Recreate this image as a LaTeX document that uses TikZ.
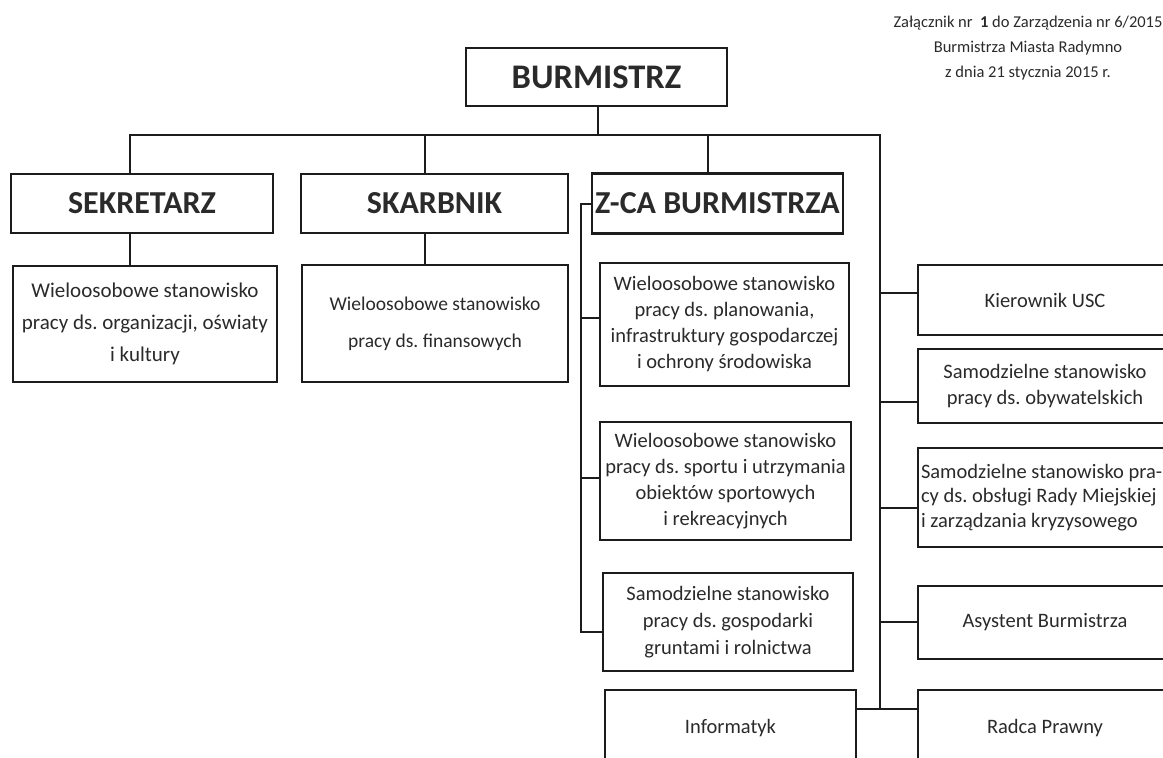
\documentclass[tikz,border=0pt]{standalone}
\usepackage{fontspec}
\setmainfont{Carlito}
\usepackage{tikz}
\usetikzlibrary{calc,positioning}
\usepackage{xcolor}
\definecolor{ink}{HTML}{2A2A2A}
\definecolor{frame}{HTML}{1C1C1C}
\frenchspacing
\tikzset{
    head/.style={
        draw=frame,
        line width=2.9pt,
        text=ink,
        font=\bfseries\fontsize{32}{36}\selectfont,
        inner sep=0pt
    },
    unit/.style={
        draw=frame,
        line width=2.7pt,
        text=ink,
        align=center,
        font=\fontsize{20.5}{26}\selectfont,
        inner sep=0pt
    },
    link/.style={
        line width=2.9pt,
        color=frame
    },
    note/.style={
        text=ink,
        align=center,
        font=\fontsize{16.5}{25}\selectfont
    }
}

\begin{document}
\begin{tikzpicture}[x=1pt,y=-1pt]

    \useasboundingbox (0,0) rectangle (1163,758);

    % Adnotacja
    \node[note]
        (zal) at (1028,48)
        {Załącznik nr\ \ \textbf{1} do Zarządzenia nr 6/2015\\
         Burmistrza Miasta Radymno\\
         z dnia 21 stycznia 2015 r.};

    % Kierownictwo
    \node[
        head,
        minimum width=261pt,
        minimum height=58pt,
        font=\bfseries\fontsize{34.5}{38}\selectfont
    ]
        (burm) at (596.5,77)
        {BURMISTRZ};

    \node[head, minimum width=262pt, minimum height=59pt]
        (sekr) at (142,203.5)
        {SEKRETARZ};

    \node[head, minimum width=267pt, minimum height=59pt]
        (skarb) at (434.5,203.5)
        {SKARBNIK};

    \node[head, minimum width=251pt, minimum height=60pt]
        (zca) at (717.5,203.5)
        {Z-CA BURMISTRZA};

    % Stanowiska pod sekretarzem i skarbnikiem
    \node[
        unit,
        minimum width=264pt,
        minimum height=116pt,
        font=\fontsize{21}{32}\selectfont
    ]
        (org) at (145,324)
        {Wieloosobowe stanowisko\\pracy ds. organizacji, oświaty\\i kultury};

    \node[
        unit,
        minimum width=266pt,
        minimum height=117pt,
        font=\fontsize{19.5}{37}\selectfont
    ]
        (fin) at (435,323.5)
        {Wieloosobowe stanowisko\\pracy ds. finansowych};

    % Stanowiska pod zastepca
    \node[unit, minimum width=249pt, minimum height=123pt]
        (plan) at (724.5,324.5)
        {Wieloosobowe stanowisko\\pracy ds. planowania,\\infrastruktury gospodarczej\\i ochrony środowiska};

    \node[unit, minimum width=251pt, minimum height=118pt]
        (sport) at (725.5,481)
        {Wieloosobowe stanowisko\\pracy ds. sportu i utrzymania\\obiektów sportowych\\i rekreacyjnych};

    \node[
        unit,
        minimum width=250pt,
        minimum height=98pt,
        font=\fontsize{20.5}{27}\selectfont
    ]
        (grunt) at (728,622)
        {Samodzielne stanowisko\\pracy ds. gospodarki\\gruntami i rolnictwa};

    \node[unit, minimum width=251pt, minimum height=76pt]
        (info) at (730.5,728)
        {Informatyk};

    % Stanowiska pod burmistrzem
    \node[unit, minimum width=254pt, minimum height=70pt]
        (usc) at (1045,300)
        {Kierownik USC};

    \node[unit, minimum width=254pt, minimum height=74pt]
        (obyw) at (1045,386)
        {Samodzielne stanowisko\\pracy ds. obywatelskich};

    \node[
        unit,
        align=flush left,
        text width=248pt,
        inner xsep=3pt,
        minimum height=99pt,
        font=\fontsize{20.5}{24.5}\selectfont
    ]
        (rada) at (1045,497.5)
        {Samodzielne stanowisko pra-\\cy ds. obsługi Rady Miejskiej\\i zarządzania kryzysowego};

    \node[unit, minimum width=254pt, minimum height=73pt]
        (asyst) at (1045,622.5)
        {Asystent Burmistrza};

    \node[unit, minimum width=254pt, minimum height=76pt]
        (radca) at (1045,728)
        {Radca Prawny};

    % Punkty linii
    \coordinate (bus) at (598,135);
    \coordinate (rtop) at (880,135);
    \coordinate (rjoin) at (880,709);
    \coordinate (zl) at (581,204);
    \coordinate (zb1) at (581,318);
    \coordinate (zb2) at (581,478);
    \coordinate (zb3) at (581,632);
    \coordinate (rb1) at (880,293);
    \coordinate (rb2) at (880,402);
    \coordinate (rb3) at (880,508);
    \coordinate (rb4) at (880,622);

    % Szyna glowna
    \draw[link] (burm.south -| bus) -- (bus);
    \draw[link] ([xshift=-12pt]sekr.north) |- (rtop) -- (rjoin);
    \draw[link] ([xshift=-9.5pt]skarb.north) -- ([xshift=-9.5pt]skarb.north |- bus);
    \draw[link] ([xshift=-9.5pt]zca.north) -- ([xshift=-9.5pt]zca.north |- bus);

    % Pod sekretarzem i skarbnikiem
    \draw[link] ([xshift=-12pt]sekr.south) -- ([xshift=-12pt]sekr.south |- org.north);
    \draw[link] ([xshift=-9.5pt]skarb.south) -- ([xshift=-9.5pt]skarb.south |- fin.north);

    % Klamra zastepcy
    \draw[link] (zca.west |- zl) -- (zl) -- (zb3) -- (zb3 -| grunt.west);
    \draw[link] (zb1) -- (zb1 -| plan.west);
    \draw[link] (zb2) -- (zb2 -| sport.west);

    % Prawa kolumna
    \draw[link] (rb1) -- (rb1 -| usc.west);
    \draw[link] (rb2) -- (rb2 -| obyw.west);
    \draw[link] (rb3) -- (rb3 -| rada.west);
    \draw[link] (rb4) -- (rb4 -| asyst.west);
    \draw[link] (rjoin -| info.east) -- (rjoin -| radca.west);

\end{tikzpicture}
\end{document}
